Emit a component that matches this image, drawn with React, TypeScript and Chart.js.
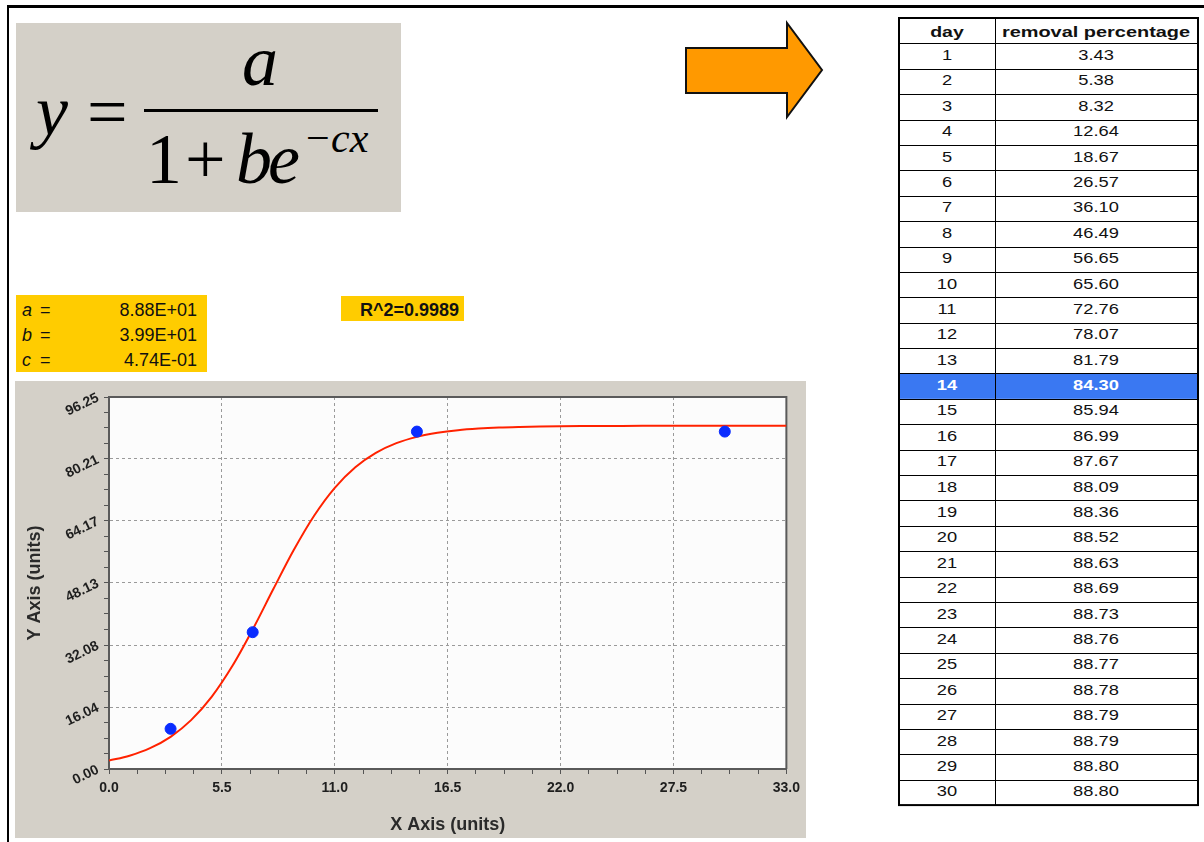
import React, { useEffect, useRef } from 'react';
import { Chart, registerables } from 'chart.js';

Chart.register(...registerables);

// ---------- data ----------
const days = [1, 2, 3, 4, 5, 6, 7, 8, 9, 10, 11, 12, 13, 14, 15, 16, 17, 18, 19, 20, 21, 22, 23, 24, 25, 26, 27, 28, 29, 30];
const removal = ['3.43', '5.38', '8.32', '12.64', '18.67', '26.57', '36.10', '46.49', '56.65', '65.60', '72.76', '78.07', '81.79', '84.30', '85.94', '86.99', '87.67', '88.09', '88.36', '88.52', '88.63', '88.69', '88.73', '88.76', '88.77', '88.78', '88.79', '88.79', '88.80', '88.80'];
const highlightDay = 14;

// fitted curve as drawn (x = day)
const curveX = [0, 1, 2, 3, 4, 5, 6, 7, 8, 9, 10, 11, 12, 13, 14, 15, 16, 17, 18, 19, 20, 21, 22, 23, 24, 25, 26, 27, 28, 29, 30, 31, 32, 33];
const curveY = [2.17, 3.43, 5.38, 8.32, 12.64, 18.67, 26.57, 36.1, 46.49, 56.65, 65.6, 72.76, 78.07, 81.79, 84.3, 85.94, 86.99, 87.67, 88.09, 88.36, 88.52, 88.63, 88.69, 88.73, 88.76, 88.77, 88.78, 88.79, 88.79, 88.8, 88.8, 88.8, 88.8, 88.8];

// measured points
const pointX = [3, 7, 15, 30];
const pointY = [10.4, 35.4, 87.3, 87.3];

const xMajorTicks = [0, 5.5, 11, 16.5, 22, 27.5, 33];
const yMajorTicks = [0, 16.04, 32.08, 48.13, 64.17, 80.21, 96.25];
const minorPerMajor = 4;

const params = [
  { name: 'a', value: '8.88E+01' },
  { name: 'b', value: '3.99E+01' },
  { name: 'c', value: '4.74E-01' },
];
const r2Label = 'R^2=0.9989';

const xTitle = 'X Axis (units)';
const yTitle = 'Y Axis (units)';

// ---------- helpers ----------
function withMinors(majors: number[]): number[] {
  const out: number[] = [];
  for (let i = 0; i < majors.length; i++) {
    out.push(majors[i]);
    if (i < majors.length - 1) {
      const step = (majors[i + 1] - majors[i]) / minorPerMajor;
      for (let k = 1; k < minorPerMajor; k++) out.push(majors[i] + step * k);
    }
  }
  return out;
}
const isMajor = (majors: number[], v: number) => majors.some((m) => Math.abs(m - v) < 1e-6);

const SANS = '"Liberation Sans", Arial, sans-serif';
const SERIF = '"Liberation Serif", "Times New Roman", serif';

const ChartPanel: React.FC = () => {
  const ref = useRef<HTMLCanvasElement | null>(null);
  useEffect(() => {
    if (!ref.current) return;
    const xAll = withMinors(xMajorTicks);
    const yAll = withMinors(yMajorTicks);
    const plotPlugin = {
      id: 'plotFrame',
      beforeDraw(chart: any) {
        const { ctx, chartArea: a } = chart;
        ctx.save();
        ctx.fillStyle = '#fcfcfc';
        ctx.fillRect(a.left, a.top, a.right - a.left, a.bottom - a.top);
        ctx.restore();
      },
      beforeDatasetsDraw(chart: any) {
        const { ctx, chartArea: a } = chart;
        ctx.save();
        ctx.strokeStyle = '#5a5a5a';
        ctx.lineWidth = 2;
        ctx.beginPath();
        ctx.moveTo(a.left, a.top);
        ctx.lineTo(a.right, a.top);
        ctx.lineTo(a.right, a.bottom);
        ctx.stroke();
        ctx.restore();
      },
    };
    const chart = new Chart(ref.current, {
      type: 'scatter',
      data: {
        datasets: [
          {
            label: 'fit',
            data: curveX.map((x, i) => ({ x, y: curveY[i] })),
            showLine: true,
            borderColor: '#ff2200',
            borderWidth: 2,
            pointRadius: 0,
            cubicInterpolationMode: 'monotone',
            order: 2,
          } as any,
          {
            label: 'data',
            data: pointX.map((x, i) => ({ x, y: pointY[i] })),
            showLine: false,
            backgroundColor: '#0a2cff',
            borderColor: '#0a2cff',
            pointRadius: 5.5,
            order: 1,
          },
        ],
      },
      options: {
        animation: false,
        responsive: false,
        maintainAspectRatio: false,
        devicePixelRatio: 1,
        layout: { padding: { left: 0, right: 19, top: 16, bottom: 0 } },
        plugins: { legend: { display: false }, tooltip: { enabled: false } },
        scales: {
          x: {
            type: 'linear',
            min: 0,
            max: 33,
            afterBuildTicks: (s: any) => {
              s.ticks = xAll.map((v) => ({ value: v }));
            },
            afterFit: (s: any) => {
              s.height = 69;
            },
            ticks: {
              autoSkip: false,
              maxRotation: 0,
              minRotation: 0,
              padding: 6,
              color: '#1e1e1e',
              font: { family: SANS, size: 14, weight: 'bold' },
              callback: (v: any) => (isMajor(xMajorTicks, Number(v)) ? Number(v).toFixed(1) : ''),
            },
            grid: {
              color: (c: any) => (c.tick && isMajor(xMajorTicks, c.tick.value) ? '#9a9a9a' : 'rgba(0,0,0,0)'),
              lineWidth: 1,
              tickLength: 5,
              tickColor: '#555',
              tickWidth: 1,
              tickBorderDash: [],
            } as any,
            border: { display: true, color: '#5a5a5a', width: 2, dash: [3, 3] },
            title: {
              display: true,
              text: xTitle,
              color: '#2a2a2a',
              font: { family: SANS, size: 18, weight: 'bold' },
              padding: { top: 0, bottom: 2 },
            },
          },
          y: {
            type: 'linear',
            min: 0,
            max: 96.25,
            afterBuildTicks: (s: any) => {
              s.ticks = yAll.map((v) => ({ value: v }));
            },
            afterFit: (s: any) => {
              s.width = 94;
            },
            ticks: {
              autoSkip: false,
              minRotation: 26,
              maxRotation: 26,
              padding: 6,
              color: '#1e1e1e',
              font: { family: SANS, size: 14, weight: 'bold' },
              callback: (v: any) => (isMajor(yMajorTicks, Number(v)) ? Number(v).toFixed(2) : ''),
            },
            grid: {
              color: (c: any) => (c.tick && isMajor(yMajorTicks, c.tick.value) ? '#9a9a9a' : 'rgba(0,0,0,0)'),
              lineWidth: 1,
              tickLength: 5,
              tickColor: '#555',
              tickWidth: 1,
              tickBorderDash: [],
            } as any,
            border: { display: true, color: '#5a5a5a', width: 2, dash: [3, 3] },
            title: {
              display: true,
              text: yTitle,
              color: '#2a2a2a',
              font: { family: SANS, size: 18, weight: 'bold' },
              padding: { top: 9, bottom: 0 },
            },
          },
        },
      },
      plugins: [plotPlugin],
    });
    return () => chart.destroy();
  }, []);
  return (
    <div style={{ position: 'absolute', left: 15, top: 381, width: 791, height: 457, background: '#d4d0c8' }}>
      <canvas ref={ref} width={791} height={457} style={{ display: 'block', width: 791, height: 457 }} />
    </div>
  );
};

const TABLE_LEFT = 899;
const TABLE_RIGHT = 1198;
const TABLE_TOP = 18;
const ROW_H = 25.39;
const COL_DIV = 995;

const Overlay: React.FC = () => {
  const rowTop = (i: number) => TABLE_TOP + i * ROW_H;
  const hlIndex = days.indexOf(highlightDay) + 1;
  return (
    <svg width={1204} height={842} style={{ position: 'absolute', left: 0, top: 0 }}>
      {/* page frame */}
      <rect x={7} y={5} width={1197} height={3} fill="#000" />
      <rect x={7} y={5} width={2} height={837} fill="#000" />

      {/* formula */}
      <rect x={16} y={23} width={385} height={189} fill="#d4d0c8" />
      <g fontFamily={SERIF} fill="#000">
        <text x={36} y={135} fontSize={72} fontStyle="italic">y</text>
        <text x={87} y={136} fontSize={72}>=</text>
        <rect x={144} y={109} width={234} height={3} fill="#000" />
        <text x={242} y={85} fontSize={72} fontStyle="italic">a</text>
        <text x={146} y={183} fontSize={72}>1</text>
        <text x={185} y={183} fontSize={72}>+</text>
        <text x={236} y={183} fontSize={72} fontStyle="italic">b</text>
        <text x={268} y={183} fontSize={72} fontStyle="italic">e</text>
        <text x={306} y={152} fontSize={42}>−</text>
        <text x={331} y={152} fontSize={42} fontStyle="italic">cx</text>
      </g>

      {/* arrow */}
      <polygon
        points="686,48 787,48 787,23 822,70 787,117 787,93 686,93"
        fill="#ff9900"
        stroke="#111"
        strokeWidth={2}
        strokeLinejoin="miter"
      />

      {/* parameters */}
      <rect x={16} y={295} width={191} height={77} fill="#ffcc00" />
      <g fontFamily={SANS} fontSize={18} fill="#111">
        {params.map((p, i) => (
          <g key={p.name}>
            <text x={22} y={316 + i * 25} fontStyle="italic">{p.name}</text>
            <text x={40} y={316 + i * 25}>=</text>
            <text x={197} y={316 + i * 25} textAnchor="end">{p.value}</text>
          </g>
        ))}
      </g>
      <rect x={341} y={296} width={123} height={25} fill="#ffcc00" />
      <text x={459} y={316} textAnchor="end" fontFamily={SANS} fontSize={18} fontWeight="bold" fill="#111">
        {r2Label}
      </text>

      {/* table */}
      <rect x={TABLE_LEFT} y={TABLE_TOP} width={TABLE_RIGHT - TABLE_LEFT} height={ROW_H * 31} fill="#fff" />
      <rect
        x={TABLE_LEFT + 1}
        y={rowTop(hlIndex)}
        width={TABLE_RIGHT - TABLE_LEFT - 2}
        height={ROW_H}
        fill="#3a78f2"
      />
      {days.map((d, i) => (
        <line
          key={'h' + d}
          x1={TABLE_LEFT}
          x2={TABLE_RIGHT}
          y1={Math.round(rowTop(i + 1)) + 0.5}
          y2={Math.round(rowTop(i + 1)) + 0.5}
          stroke="#000"
          strokeWidth={1}
        />
      ))}
      <line x1={COL_DIV + 0.5} x2={COL_DIV + 0.5} y1={TABLE_TOP} y2={TABLE_TOP + ROW_H * 31} stroke="#000" strokeWidth={1} />
      <rect
        x={TABLE_LEFT}
        y={TABLE_TOP}
        width={TABLE_RIGHT - TABLE_LEFT}
        height={ROW_H * 31}
        fill="none"
        stroke="#000"
        strokeWidth={2}
      />
      <g fontFamily={SANS} fontSize={15} fontWeight="bold" fill="#111">
        <text transform={`translate(947 ${TABLE_TOP + 19}) scale(1.3 1)`} textAnchor="middle">day</text>
        <text transform={`translate(1096 ${TABLE_TOP + 19}) scale(1.33 1)`} textAnchor="middle">removal percentage</text>
      </g>
      <g fontFamily={SANS} fontSize={15}>
        {days.map((d, i) => {
          const y = rowTop(i + 1) + 16.6;
          const hl = d === highlightDay;
          return (
            <g key={'t' + d} fill={hl ? '#fff' : '#111'} fontWeight={hl ? 'bold' : 'normal'}>
              <text transform={`translate(947 ${y}) scale(1.22 1)`} textAnchor="middle">{String(d)}</text>
              <text transform={`translate(1096 ${y}) scale(1.22 1)`} textAnchor="middle">{removal[i]}</text>
            </g>
          );
        })}
      </g>
    </svg>
  );
};

export default function App() {
  return (
    <div style={{ position: 'relative', width: 1204, height: 842, overflow: 'hidden', background: '#fff' }}>
      <style>{'html,body{margin:0;padding:0;background:#fff;}'}</style>
      <Overlay />
      <ChartPanel />
    </div>
  );
}
